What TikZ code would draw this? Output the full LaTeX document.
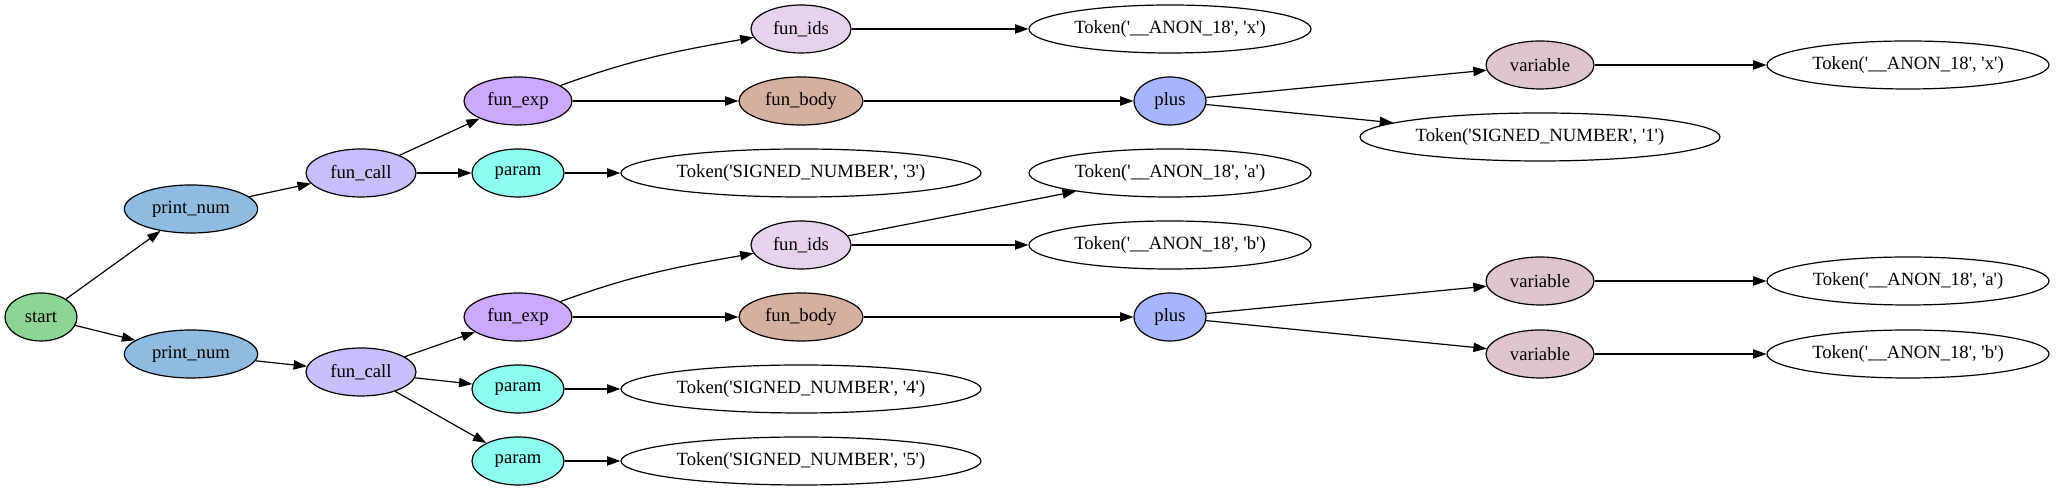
\documentclass[tikz,border=0pt]{standalone}
\usepackage{fontspec}
\setmainfont{Liberation Serif}
\usetikzlibrary{shapes.geometric,arrows.meta}
\newcommand{\sq}{\textquotesingle}
\definecolor{cstart}{RGB}{141,213,148}
\definecolor{cprint}{RGB}{143,187,224}
\definecolor{ccall}{RGB}{201,190,250}
\definecolor{cexp}{RGB}{202,168,252}
\definecolor{cparam}{RGB}{140,252,238}
\definecolor{cids}{RGB}{231,210,236}
\definecolor{cbody}{RGB}{212,176,160}
\definecolor{cplus}{RGB}{168,181,252}
\definecolor{cvar}{RGB}{221,197,204}
\tikzset{
  nd/.style={ellipse, draw, line width=0.9pt, inner sep=0pt, minimum height=36pt,
    font=\fontsize{14}{16}\selectfont},
  tok/.style={nd, fill=white},
  edge/.style={line width=0.9pt, -{Triangle[length=10pt,width=7pt]}}
}
\begin{document}
\begin{tikzpicture}[x=0.75pt,y=0.75pt]
\useasboundingbox (0,0) rectangle (2056,491);
% column 0-2
\node[nd, fill=cstart, minimum width=54pt] (start) at (41,174) {start};
\node[nd, fill=cprint, minimum width=100pt] (pn1) at (191,282) {print\_num};
\node[nd, fill=cprint, minimum width=100pt] (pn2) at (191,137) {print\_num};
\node[nd, fill=ccall, minimum width=82.5pt] (fc1) at (361,318) {fun\_call};
\node[nd, fill=ccall, minimum width=82.5pt] (fc2) at (361,119) {fun\_call};
% column 3
\node[nd, fill=cexp, minimum width=81pt] (fe1) at (518,390) {fun\_exp};
\node[nd, fill=cparam, minimum width=69pt] (pa1) at (518,318) {param};
\node[nd, fill=cexp, minimum width=81pt] (fe2) at (518,174) {fun\_exp};
\node[nd, fill=cparam, minimum width=69pt] (pa4) at (518,102) {param};
\node[nd, fill=cparam, minimum width=69pt] (pa5) at (518,30) {param};
% column 4
\node[nd, fill=cids, minimum width=75pt] (fi1) at (801,462) {fun\_ids};
\node[nd, fill=cbody, minimum width=93pt] (fb1) at (801,390) {fun\_body};
\node[tok, minimum width=270pt] (ts3) at (801,318) {Token(\sq SIGNED\_NUMBER\sq, \sq 3\sq)};
\node[nd, fill=cids, minimum width=75pt] (fi2) at (801,246) {fun\_ids};
\node[nd, fill=cbody, minimum width=93pt] (fb2) at (801,174) {fun\_body};
\node[tok, minimum width=270pt] (ts4) at (801,102) {Token(\sq SIGNED\_NUMBER\sq, \sq 4\sq)};
\node[tok, minimum width=270pt] (ts5) at (801,30) {Token(\sq SIGNED\_NUMBER\sq, \sq 5\sq)};
% column 5
\node[tok, minimum width=211.5pt] (tx1) at (1170,462) {Token(\sq\_\_ANON\_18\sq, \sq x\sq)};
\node[nd, fill=cplus, minimum width=54pt] (pl1) at (1170,390) {plus};
\node[tok, minimum width=211.5pt] (ta1) at (1170,318) {Token(\sq\_\_ANON\_18\sq, \sq a\sq)};
\node[tok, minimum width=211.5pt] (tb1) at (1170,246) {Token(\sq\_\_ANON\_18\sq, \sq b\sq)};
\node[nd, fill=cplus, minimum width=54pt] (pl2) at (1170,174) {plus};
% column 6
\node[nd, fill=cvar, minimum width=81pt] (va1) at (1540,426) {variable};
\node[tok, minimum width=270pt] (ts1) at (1540,354) {Token(\sq SIGNED\_NUMBER\sq, \sq 1\sq)};
\node[nd, fill=cvar, minimum width=81pt] (va2) at (1540,210) {variable};
\node[nd, fill=cvar, minimum width=81pt] (va3) at (1540,137) {variable};
% column 7
\node[tok, minimum width=211.5pt] (tx2) at (1908,426) {Token(\sq\_\_ANON\_18\sq, \sq x\sq)};
\node[tok, minimum width=211.5pt] (ta2) at (1908,210) {Token(\sq\_\_ANON\_18\sq, \sq a\sq)};
\node[tok, minimum width=211.5pt] (tb2) at (1908,137) {Token(\sq\_\_ANON\_18\sq, \sq b\sq)};
% edges
\draw[edge] (start) -- (pn1);
\draw[edge] (start) -- (pn2);
\draw[edge] (pn1) -- (fc1);
\draw[edge] (pn2) -- (fc2);
\draw[edge] (fc1) -- (fe1);
\draw[edge] (fc1) -- (pa1);
\draw[edge] (fe1) to[out=20,in=190] (fi1);
\draw[edge] (fe1) -- (fb1);
\draw[edge] (fi1) -- (tx1);
\draw[edge] (fb1) -- (pl1);
\draw[edge] (pl1) -- (va1);
\draw[edge] (pl1) -- (ts1);
\draw[edge] (va1) -- (tx2);
\draw[edge] (pa1) -- (ts3);
\draw[edge] (fc2) -- (fe2);
\draw[edge] (fc2) -- (pa4);
\draw[edge] (fc2) -- (pa5);
\draw[edge] (fe2) to[out=20,in=190] (fi2);
\draw[edge] (fe2) -- (fb2);
\draw[edge] (fi2) -- (ta1);
\draw[edge] (fi2) -- (tb1);
\draw[edge] (fb2) -- (pl2);
\draw[edge] (pl2) -- (va2);
\draw[edge] (pl2) -- (va3);
\draw[edge] (va2) -- (ta2);
\draw[edge] (va3) -- (tb2);
\draw[edge] (pa4) -- (ts4);
\draw[edge] (pa5) -- (ts5);
\end{tikzpicture}
\end{document}
